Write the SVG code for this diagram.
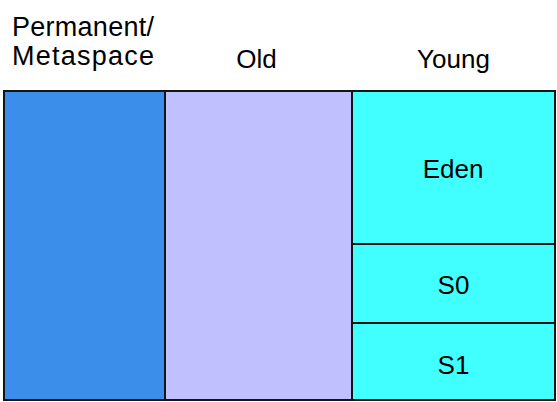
<svg xmlns="http://www.w3.org/2000/svg" width="557" height="402" viewBox="0 0 557 402">
<style>
.box{stroke:#141414;stroke-width:2}
text{font-family:"Liberation Sans",Arial,sans-serif;font-size:26px;fill:#000;text-anchor:middle}
.wide{font-size:27px}
</style>
<rect width="557" height="402" fill="#fff"/>
<g id="permanent">
<rect class="box" x="4" y="91" width="161" height="309" fill="#3B8EEA"/>
<text class="wide" x="83" y="35.5" textLength="142" lengthAdjust="spacing">Permanent/</text>
<text class="wide" x="83" y="65" textLength="142" lengthAdjust="spacing">Metaspace</text>
</g>
<g id="old">
<rect class="box" x="165" y="91" width="187" height="309" fill="#C0BFFF"/>
<text x="256.5" y="67.5">Old</text>
</g>
<g id="young">
<text x="453.5" y="67.5">Young</text>
</g>
<g id="eden">
<rect class="box" x="352" y="91" width="203" height="153" fill="#42FFFF"/>
<text x="453" y="177.5">Eden</text>
</g>
<g id="s0">
<rect class="box" x="352" y="244" width="203" height="79" fill="#42FFFF"/>
<text x="453.5" y="293.5">S0</text>
</g>
<g id="s1">
<rect class="box" x="352" y="323" width="203" height="77" fill="#42FFFF"/>
<text x="453.5" y="373.5">S1</text>
</g>
<g id="connectors"/>
</svg>
